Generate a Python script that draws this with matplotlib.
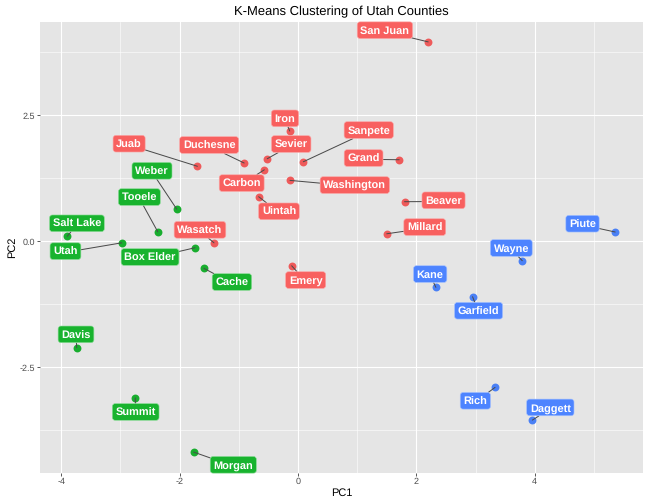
import matplotlib
matplotlib.use('Agg')
import matplotlib.pyplot as plt
from matplotlib.patches import BoxStyle

plt.rcParams['font.family'] = ['Liberation Sans', 'DejaVu Sans']
plt.rcParams['text.hinting'] = 'no_hinting'
plt.rcParams['text.hinting_factor'] = 1

# county scores
counties1 = ['San Juan', 'Iron', 'Juab', 'Duchesne', 'Sevier', 'Sanpete', 'Grand', 'Carbon',
             'Washington', 'Uintah', 'Beaver', 'Millard', 'Wasatch', 'Emery']
pc1_1 = [2.20, -0.14, -1.70, -0.91, -0.52, 0.09, 1.71, -0.57, -0.135, -0.665, 1.80, 1.50, -1.42, -0.107]
pc2_1 = [3.96, 2.19, 1.49, 1.555, 1.64, 1.58, 1.62, 1.42, 1.21, 0.886, 0.787, 0.15, -0.03, -0.485]

counties2 = ['Weber', 'Tooele', 'Salt Lake', 'Utah', 'Box Elder', 'Cache', 'Davis', 'Summit', 'Morgan']
pc1_2 = [-2.05, -2.37, -3.90, -2.98, -1.74, -1.59, -3.74, -2.75, -1.763]
pc2_2 = [0.64, 0.19, 0.10, -0.03, -0.127, -0.536, -2.113, -3.11, -4.185]

counties3 = ['Piute', 'Wayne', 'Kane', 'Garfield', 'Rich', 'Daggett']
pc1_3 = [5.36, 3.79, 2.33, 2.95, 3.33, 3.96]
pc2_3 = [0.185, -0.385, -0.914, -1.10, -2.90, -3.55]

# where the repelled labels ended up, offset from the point in px (x right, y up)
label_offsets = {
    'San Juan': (-43.3, 11.7), 'Iron': (-4.7, 12.7), 'Juab': (-68.3, 22.6), 'Duchesne': (-35, 18),
    'Sevier': (24, 14.7), 'Sanpete': (65.4, 31.7), 'Grand': (-35.6, 1.7), 'Carbon': (-22.6, -13.3),
    'Washington': (64.8, -4.7), 'Uintah': (20.3, -14.6), 'Beaver': (39, 1.4), 'Millard': (38, 6.7),
    'Wasatch': (-14, 13), 'Emery': (14, -14.3),
    'Weber': (-24.7, 38.3), 'Tooele': (-18.4, 34.7), 'Salt Lake': (9.7, 13), 'Utah': (-56.2, -8.3),
    'Box Elder': (-45, -9.3), 'Cache': (28, -13.7), 'Davis': (-0.7, 13.4), 'Summit': (0.4, -14),
    'Morgan': (39.6, -12.7),
    'Piute': (-32.7, 8.3), 'Wayne': (-11, 12.7), 'Kane': (-5.7, 13.3), 'Garfield': (6, -14),
    'Rich': (-19.7, -13.4), 'Daggett': (18, 12.7),
}

clusters = [
    (counties1, pc1_1, pc2_1, '#F8605F', '#EE5A5A', '#FBA5A5'),
    (counties2, pc1_2, pc2_2, '#18B32E', '#18AD2E', '#8ADB96'),
    (counties3, pc1_3, pc2_3, '#4D84FF', '#4A80F5', '#A3C0FF'),
]

TEXT_DROP = 1.2


# text box leaves room for descenders, so the words sit high: lift the box a bit
class LabelBox(BoxStyle.Round):
    def __call__(self, x0, y0, width, height, mutation_size):
        return super().__call__(x0, y0 + TEXT_DROP, width, height, mutation_size)


fig = plt.figure(figsize=(9, 7), dpi=72)
ax = fig.add_axes([40 / 648, 1 - 472.5 / 504, 603 / 648, 450.5 / 504])
ax.set_facecolor('#E5E5E5')
for s in ax.spines.values():
    s.set_visible(False)

ax.set_xlim(-4.36, 5.83)
ax.set_ylim(-4.59, 4.355)
ax.set_xticks([-4, -2, 0, 2, 4])
ax.set_xticklabels(['-4', '-2', '0', '2', '4'])
ax.set_yticks([-2.5, 0, 2.5])
ax.set_yticklabels(['-2.5', '0.0', '2.5'])
ax.set_xticks([-3, -1, 1, 3, 5], minor=True)
ax.set_yticks([-3.75, -1.25, 1.25, 3.75], minor=True)
ax.grid(True, which='major', color='white', linewidth=1.1)
ax.grid(True, which='minor', color='white', linewidth=0.55)
ax.set_axisbelow(True)
ax.tick_params(which='major', length=2.7, width=0.8, color='#333333', labelcolor='#4D4D4D', labelsize=8.8, pad=2)
ax.tick_params(which='minor', length=0)

for names, xs, ys, fill, dot, edge in clusters:
    ax.scatter(xs, ys, s=62, color=dot, linewidths=0, zorder=3)
    for name, x, y in zip(names, xs, ys):
        dx, dy = label_offsets[name]
        ax.annotate(name, (x, y), xytext=(dx, dy - TEXT_DROP), textcoords='offset points',
                    ha='center', va='center', color='white', fontweight='bold', fontsize=11.4,
                    bbox=dict(boxstyle=LabelBox(pad=0.28, rounding_size=0.25), fc=fill, ec=edge, lw=0.6),
                    arrowprops=dict(arrowstyle='-', color='#4A4A4A', lw=1.0, shrinkA=0, shrinkB=0),
                    zorder=4)

ax.set_title('K-Means Clustering of Utah Counties', fontsize=13.2, pad=7)
ax.set_xlabel('PC1', fontsize=11, labelpad=2)
ax.set_ylabel('PC2', fontsize=11, labelpad=3)

fig.savefig('out.png', dpi=72)
